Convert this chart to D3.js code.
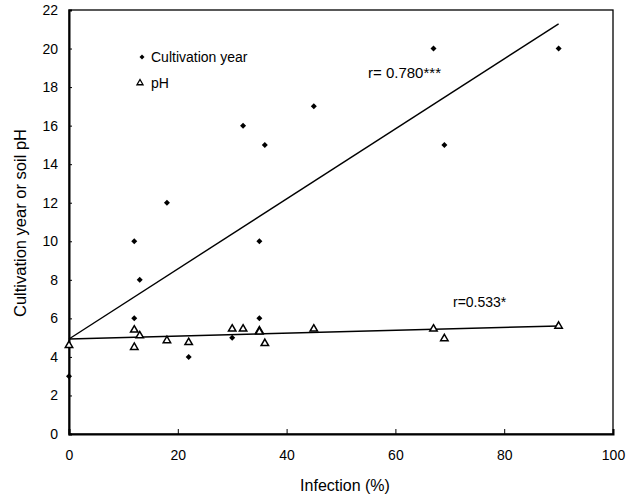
<!DOCTYPE html>
<html>
<head>
<meta charset="utf-8">
<script src="https://cdn.jsdelivr.net/npm/d3@7"></script>
<style>
body{margin:0;background:#fff;}
text{font-family:"Liberation Sans",Arial,sans-serif;fill:#000;}
</style>
</head>
<body>
<div id="canvas"></div>
<script>
// cultivation year vs infection
let year_x = [0, 12, 12, 13, 18, 22, 30, 32, 35, 35, 36, 45, 67, 69, 90],
year_y = [3, 10, 6, 8, 12, 4, 5, 16, 10, 6, 15, 17, 20, 15, 20];

// soil pH vs infection
let ph_x = [0, 12, 12, 13, 18, 22, 30, 32, 35, 35, 36, 45, 67, 69, 90],
ph_y = [4.6, 5.4, 4.5, 5.1, 4.85, 4.75, 5.45, 5.45, 5.35, 5.3, 4.7, 5.45, 5.45, 4.95, 5.6];

// fitted lines [intercept, slope], drawn over x range
let year_fit = [4.93, 0.1817],
ph_fit = [4.93, 0.0075],
fit_range = [0, 90];

let x_ticks = [0, 20, 40, 60, 80, 100],
y_ticks = [0, 2, 4, 6, 8, 10, 12, 14, 16, 18, 20, 22];

let W = 639, H = 498,
pl = 69, pr = 613, pt = 10, pb = 434;

let svg = d3.select('#canvas').append('svg').attr('width', W).attr('height', H);

let x = d3.scaleLinear().domain([0, 100]).range([pl, pr]),
y = d3.scaleLinear().domain([0, 22]).range([pb, pt]);

//frame
svg.append('rect')
.attr('x', pl).attr('y', pt)
.attr('width', pr - pl).attr('height', pb - pt)
.style('fill', 'none').style('stroke', '#000').style('stroke-width', 1.3);

//x axis
let xa = svg.append('g').attr('transform', 'translate(0,' + pb + ')')
.call(d3.axisBottom(x).tickValues(x_ticks).tickSize(-5).tickPadding(16));
xa.select('.domain').style('stroke-width', 2);
xa.selectAll('text').style('font-size', '14px');

//y axis
let ya = svg.append('g').attr('transform', 'translate(' + pl + ',0)')
.call(d3.axisLeft(y).tickValues(y_ticks).tickSize(-3).tickPadding(11));
ya.select('.domain').style('stroke-width', 2);
ya.selectAll('text').style('font-size', '14px');

//axis titles
svg.append('text')
.attr('x', 345).attr('y', 491)
.attr('text-anchor', 'middle')
.style('font-size', '16px')
.text('Infection (%)');

svg.append('text')
.attr('transform', 'translate(26,' + 223 + ') rotate(-90)')
.attr('text-anchor', 'middle')
.style('font-size', '16.5px')
.text('Cultivation year or soil pH');

//regression lines
[year_fit, ph_fit].forEach(f=>{
	svg.append('line')
	.attr('x1', x(fit_range[0])).attr('y1', y(f[0] + f[1] * fit_range[0]))
	.attr('x2', x(fit_range[1])).attr('y2', y(f[0] + f[1] * fit_range[1]))
	.style('stroke', '#000').style('stroke-width', 1.4);
});

//small rotated square as diamond
let diamond = r=>'M0,' + (-r) + 'L' + r + ',0L0,' + r + 'L' + (-r) + ',0Z',
tri = d3.symbol().type(d3.symbolTriangle).size(24),
tri_small = d3.symbol().type(d3.symbolTriangle).size(16);

//pH points
svg.append('g').selectAll('path')
.data(ph_x.map((d, i)=>[d, ph_y[i]]))
.enter().append('path')
.attr('d', tri)
.attr('transform', d=>'translate(' + x(d[0]) + ',' + y(d[1]) + ')')
.style('fill', '#fff').style('stroke', '#000').style('stroke-width', 1.5);

//cultivation year points
svg.append('g').selectAll('path')
.data(year_x.map((d, i)=>[d, year_y[i]]))
.enter().append('path')
.attr('d', diamond(3))
.attr('transform', d=>'translate(' + x(d[0]) + ',' + y(d[1]) + ')')
.style('fill', '#000');

//legend
svg.append('path').attr('d', diamond(2.5)).attr('transform', 'translate(142,57)').style('fill', '#000');
svg.append('text').attr('x', 151).attr('y', 62).style('font-size', '14px').text('Cultivation year');
svg.append('path').attr('d', tri_small).attr('transform', 'translate(140,83)')
.style('fill', '#fff').style('stroke', '#000').style('stroke-width', 1.3);
svg.append('text').attr('x', 151).attr('y', 88).style('font-size', '14px').text('pH');

//correlation labels
svg.append('text').attr('x', 368).attr('y', 78).style('font-size', '15px').text('r= 0.780***');
svg.append('text').attr('x', 453).attr('y', 307).style('font-size', '14px').text('r=0.533*');
</script>
</body>
</html>
